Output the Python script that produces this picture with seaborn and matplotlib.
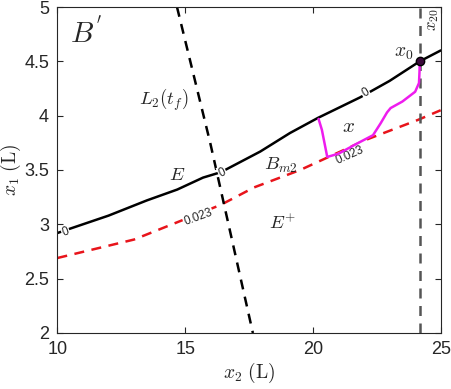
import numpy as np
import pandas as pd
import matplotlib
matplotlib.use("Agg")
import matplotlib.pyplot as plt
import seaborn as sns

# level-0 curve (boundary of E)
e_x2 = [10.0, 10.37, 12.0, 13.5, 14.69, 15.7, 16.4, 17.94, 19.1, 20.2, 21.86, 23.0, 24.18, 25.0]
e_x1 = [2.92, 2.95, 3.08, 3.22, 3.32, 3.43, 3.48, 3.67, 3.84, 3.98, 4.17, 4.32, 4.50, 4.60]

# level-0.023 curve (B_m2)
b_x2 = [10.0, 13.0, 16.4, 17.7, 19.5, 22.1, 24.1, 25.0]
b_x1 = [2.69, 2.86, 3.18, 3.34, 3.50, 3.78, 3.96, 4.05]

# L2(t_f) line
l_x2 = [14.68, 15.98, 17.65]
l_x1 = [5.0, 3.75, 2.0]

# trajectory x
t_x2 = [20.22, 20.35, 20.56, 21.0, 21.7, 22.35, 22.65, 22.9, 23.04, 23.5, 24.0, 24.15, 24.17, 24.18]
t_x1 = [3.97, 3.87, 3.62, 3.65, 3.74, 3.82, 3.93, 4.03, 4.07, 4.13, 4.22, 4.30, 4.40, 4.50]

x20 = 24.18
x0 = (24.18, 4.50)

sns.set_style("ticks")
plt.rcParams["mathtext.fontset"] = "cm"
plt.rcParams["font.family"] = ["Liberation Sans", "DejaVu Sans"]

fig = plt.figure(figsize=(4.52, 3.89), dpi=100)
ax = fig.add_axes([0.127, 0.144, 0.848, 0.838])

sns.lineplot(x=e_x2, y=e_x1, sort=False, color="black", lw=1.8, ax=ax)
sns.lineplot(x=b_x2, y=b_x1, sort=False, color="#e8141b", lw=1.8, ax=ax, linestyle=(0, (4, 3)))
sns.lineplot(x=l_x2, y=l_x1, sort=False, color="black", lw=1.8, ax=ax, linestyle=(0, (4, 3)))
ax.axvline(x20, color="#555555", lw=1.8, linestyle=(0, (4, 3)))
sns.lineplot(x=t_x2, y=t_x1, sort=False, color="#ee1cee", lw=1.8, ax=ax, zorder=5)
ax.plot([x0[0]], [x0[1]], "o", ms=6, color="#3a0a3a", mec="black", zorder=6)

# contour labels
lab = dict(fontsize=8.5, ha="center", va="center",
           bbox=dict(fc="white", ec="none", pad=0.6), zorder=4)
ax.text(22.06, 4.21, "0", rotation=31, **lab)
ax.text(16.45, 3.475, "0", rotation=25, **lab)
ax.text(10.32, 2.93, "0", rotation=20, **lab)
ax.text(15.5, 3.07, "0.023", rotation=20, **lab)
ax.text(21.45, 3.64, "0.023", rotation=24, **lab)

# region annotations
ax.text(10.5, 4.76, r"$B^{'}$", fontsize=21, va="center")
ax.text(14.15, 4.15, r"$L_2(t_f)$", fontsize=13.5, ha="center", va="center")
ax.text(14.68, 3.45, r"$E$", fontsize=13.5, ha="center", va="center")
ax.text(18.73, 3.54, r"$B_{m2}$", fontsize=13.5, ha="center", va="center")
ax.text(21.4, 3.90, r"$x$", fontsize=15, ha="center", va="center")
ax.text(23.55, 4.57, r"$x_0$", fontsize=14, ha="center", va="center")
ax.text(24.73, 4.88, r"$x_{20}$", fontsize=12, rotation=90, ha="center", va="center")
ax.text(18.8, 3.01, r"$E^{+}$", fontsize=13.5, ha="center", va="center")

ax.set_xlim(10, 25)
ax.set_ylim(2, 5)
ax.set_xticks([10, 15, 20, 25])
ax.set_yticks([2, 2.5, 3, 3.5, 4, 4.5, 5])
ax.set_yticklabels(["2", "2.5", "3", "3.5", "4", "4.5", "5"])
ax.tick_params(direction="in", top=True, right=True, labelsize=13, length=4, width=0.8, pad=6)
for s in ax.spines.values():
    s.set_linewidth(0.8)
    s.set_color("#262626")
ax.set_xlabel(r"$x_2\ (\mathrm{L})$", fontsize=14, labelpad=2)
ax.set_ylabel(r"$x_1\ (\mathrm{L})$", fontsize=14, labelpad=1)

fig.savefig("out.png", dpi=100)
